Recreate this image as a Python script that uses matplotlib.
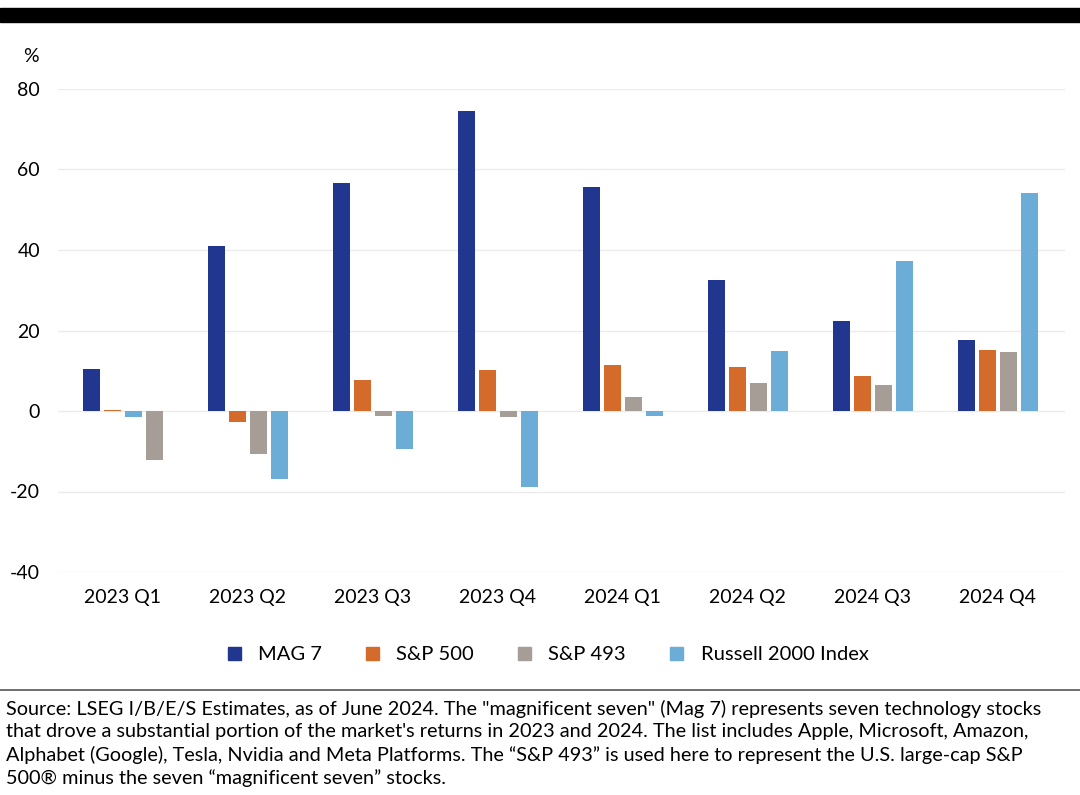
import matplotlib
matplotlib.use("Agg")
import matplotlib.pyplot as plt
import matplotlib.patches as mpatches
from matplotlib.lines import Line2D
import numpy as np

categories = ["2023 Q1", "2023 Q2", "2023 Q3", "2023 Q4",
              "2024 Q1", "2024 Q2", "2024 Q3", "2024 Q4"]
series_names = ["MAG 7", "S&P 500", "S&P 493", "Russell 2000 Index"]
mag7 = [10.4, 41.0, 56.7, 74.6, 55.7, 32.6, 22.4, 17.7]
sp500 = [0.3, -2.7, 7.7, 10.2, 11.4, 10.9, 8.7, 15.2]
sp493 = [-12.2, -10.7, -1.3, -1.5, 3.5, 7.0, 6.4, 14.7]
russell = [-1.5, -17.0, -9.5, -19.0, -1.2, 15.0, 37.3, 54.2]
yticks = [-40, -20, 0, 20, 40, 60, 80]

colors = ["#21378f", "#d46b2b", "#a59d96", "#6badd6"]
# slot order of series within each group (first quarter draws Russell before S&P 493)
slot_order = [[0, 1, 3, 2]] + [[0, 1, 2, 3]] * 7

FONT = ["Lato", "DejaVu Sans"]

fig = plt.figure(figsize=(10.8, 7.95), dpi=100)
ax = fig.add_axes([58 / 1080, 1 - 572 / 795, (1065 - 58) / 1080, (572 - 89) / 795])

data = [mag7, sp500, sp493, russell]
step = 0.168
width = 0.136
x = np.arange(len(categories))
for s, vals in enumerate(data):
    offs = np.array([(slot_order[i].index(s) - 1.5) * step for i in range(len(categories))])
    ax.bar(x + offs, vals, width=width, color=colors[s], zorder=3, label=series_names[s])

ax.set_xlim(-0.52, 7.54)
ax.set_ylim(-40, 80)
ax.set_yticks(yticks)
ax.set_yticklabels([str(v) for v in yticks], family=FONT, fontsize=14)
ax.set_xticks(x)
ax.set_xticklabels(categories, family=FONT, fontsize=14)
ax.tick_params(axis="both", length=0)
ax.tick_params(axis="x", pad=12)
ax.tick_params(axis="y", pad=13)
for sp in ax.spines.values():
    sp.set_visible(False)
ax.grid(axis="y", color="#ebebeb", linewidth=1.0, zorder=0)
ax.set_axisbelow(True)

# % label
fig.text(23 / 1080, 1 - 57 / 795, "%", family=FONT, fontsize=14, ha="left", va="center")

# top black band
fig.add_artist(mpatches.Rectangle((0, 1 - 22 / 795), 1, 14 / 795, transform=fig.transFigure,
                                  color="black", zorder=10))

# legend
handles = [mpatches.Patch(color=c) for c in colors]
leg = fig.legend(handles, series_names, loc="center", bbox_to_anchor=(548 / 1080, 1 - 655 / 795),
                 ncol=4, frameon=False, handlelength=0.65, handleheight=0.65, handletextpad=0.85,
                 columnspacing=2.2, prop={"family": FONT, "size": 14.5})

# separator line
fig.add_artist(Line2D([0, 1], [1 - 690 / 795, 1 - 690 / 795], transform=fig.transFigure,
                      color="#555555", linewidth=1.2))

foot = [
    "Source: LSEG I/B/E/S Estimates, as of June 2024. The \"magnificent seven\" (Mag 7) represents seven technology stocks",
    "that drove a substantial portion of the market's returns in 2023 and 2024. The list includes Apple, Microsoft, Amazon,",
    "Alphabet (Google), Tesla, Nvidia and Meta Platforms. The \u201cS&P 493\u201d is used here to represent the U.S. large-cap S&P",
    "500\u00ae minus the seven \u201cmagnificent seven\u201d stocks.",
]
for i, line in enumerate(foot):
    fig.text(6 / 1080, 1 - (709 + 23 * i) / 795, line, family=FONT, fontsize=14.3,
             ha="left", va="center")

fig.savefig("out.png", dpi=100)
